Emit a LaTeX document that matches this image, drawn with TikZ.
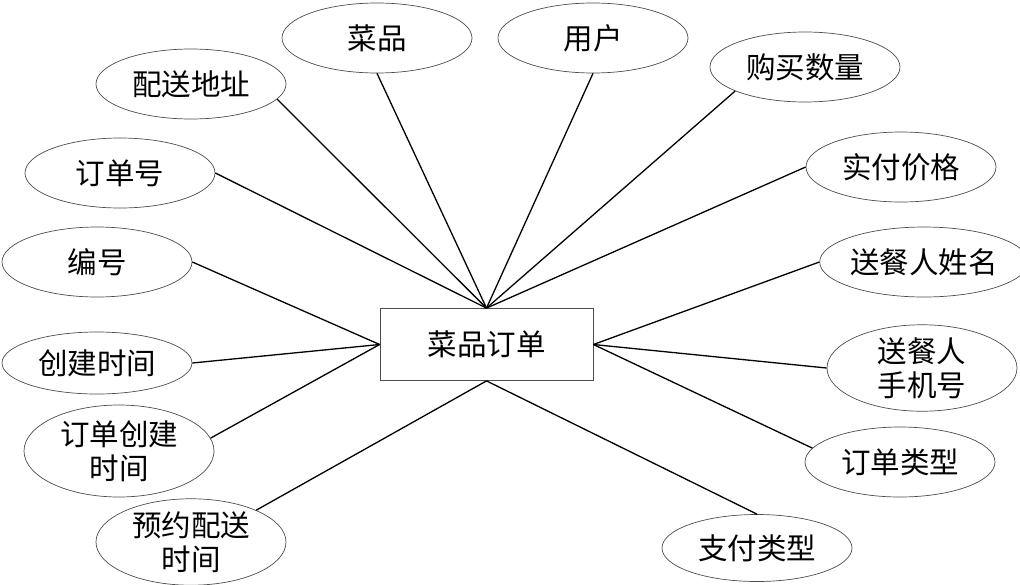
\documentclass[tikz,border=0pt]{standalone}
\usepackage{fontspec}
\newfontfamily\cjk{Noto Sans CJK SC}
\usetikzlibrary{shapes.geometric}

\tikzset{
  attr/.style={ellipse,draw=black!70,line width=0.7pt,inner sep=0pt,
    minimum width=190pt,minimum height=70pt,align=center,
    font=\cjk\fontsize{29.5}{34}\selectfont},
  entity/.style={rectangle,draw=black!70,line width=0.8pt,inner sep=0pt,
    minimum width=213pt,minimum height=72pt,
    font=\cjk\fontsize{29.5}{34}\selectfont},
  link/.style={black,line width=1.3pt}
}

\begin{document}
\begin{tikzpicture}[x=1pt,y=-1pt]

   \useasboundingbox (0,0) rectangle (1020,584);

   \node[entity] (ord) at (486.5,344.5) {菜品订单};

   \node[attr] (addr)   at (191,84)  {配送地址};
   \node[attr] (dish)   at (377,38)  {菜品};
   \node[attr] (user)   at (593,38)  {用户};
   \node[attr] (qty)    at (805,67)  {购买数量};
   \node[attr] (ordno)  at (120,173) {订单号};
   \node[attr] (paid)   at (901,167) {实付价格};
   \node[attr] (id)     at (97,262)  {编号};
   \node[attr] (cname)  at (924,262) {送餐人姓名};
   \node[attr,minimum height=62pt] (ctime) at (97,363) {创建时间};
   \node[attr,minimum height=92pt] (otime) at (119,451) {订单创建\\时间};
   \node[attr,minimum height=80pt] (rtime) at (191,542) {预约配送\\时间};
   \node[attr,minimum height=83pt] (cphone) at (922,368) {送餐人\\手机号};
   \node[attr] (otype)  at (900,462) {订单类型};
   \node[attr,minimum height=67pt] (pay) at (757,548) {支付类型};

   \draw[link] (addr.-10) -- (ord.north);
   \draw[link] (dish.south) -- (ord.north);
   \draw[link] (user.south) -- (ord.north);
   \draw[link] (qty.199) -- (ord.north);
   \draw[link] (ordno.east) -- (ord.north);
   \draw[link] (paid.west) -- (ord.north);
   \draw[link] (id.east) -- (ord.west);
   \draw[link] (ctime.east) -- (ord.west);
   \draw[link] (otime.8) -- (ord.west);
   \draw[link] (cname.west) -- (ord.east);
   \draw[link] (cphone.west) -- (ord.east);
   \draw[link] (otype.171) -- (ord.east);
   \draw[link] (rtime.26) -- (ord.south);
   \draw[link] (pay.north) -- (ord.south);

\end{tikzpicture}
\end{document}
